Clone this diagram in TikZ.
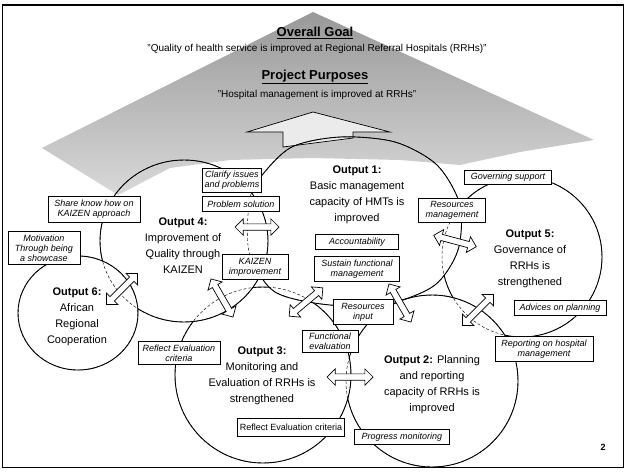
\documentclass[tikz,border=0pt]{standalone}
\usepackage{fontspec}
\setmainfont{Liberation Sans}
\usetikzlibrary{shapes.arrows}

\tikzset{
  goaltitle/.style={font=\fontsize{13}{15}\selectfont\bfseries},
  goalquote/.style={font=\fontsize{10}{12}\selectfont},
  outtext/.style={align=center, font=\fontsize{11}{16}\selectfont},
  itembox/.style={draw, line width=1pt, fill=white, align=center, inner sep=0pt, font=\fontsize{9}{9.8}\selectfont\itshape},
  linkarrow/.style={double arrow, draw, fill=white, line width=0.7pt, inner sep=2.8pt, double arrow head extend=5pt, minimum height=44pt},
  rim/.style={line width=0.9pt},
  hiddenrim/.style={line width=0.45pt, dash pattern=on 3pt off 2pt},
}

\begin{document}
\begin{tikzpicture}[x=1pt, y=-1pt]
  \useasboundingbox (0,0) rectangle (626,472);

  % Define the rims of the six outputs
  \def\rimOne{plot[smooth cycle] coordinates {(255,185) (290,148) (340,137) (395,142) (437,165) (460,205) (458,250) (435,285) (390,303) (330,305) (275,292) (250,255) (248,215)}}
  \def\rimTwo{(432,381) circle [radius=86pt]}
  \def\rimThree{(263,375) circle [radius=88pt]}
  \def\rimFour{(184,241) ellipse [x radius=84pt, y radius=81pt]}
  \def\rimFive{(522,257) circle [radius=80pt]}
  \def\rimSix{(78,313) ellipse [x radius=60pt, y radius=57pt]}
  \def\page{(0,0) rectangle (626,472)}

  % Shaded pyramid behind the goals
  \shade[top color=black!40, bottom color=black!15] (313,12) -- (594,140) -- (520,152) -- (460,165) -- (400,160) -- (313,158) -- (230,160) -- (170,168) -- (118,195) -- (42,148) -- cycle;

  % Goal and purpose
  \node[goaltitle] (goal) at (315,33) {\underline{Overall Goal}};
  \node[goalquote] (goaltxt) at (317,49) {"Quality of health service is improved at Regional Referral Hospitals (RRHs)"};
  \node[goaltitle] (purpose) at (315,77) {\underline{Project Purposes}};
  \node[goalquote] (purposetxt) at (317,95) {"Hospital management is improved at RRHs"};

  % Upward arrow from output 1
  \filldraw[fill=black!8, line width=0.7pt] (247,132) -- (313,112) -- (390,132) -- (353,132) -- (353,138) -- (283,147) -- (283,132) -- cycle;

  % Dashed rims first, solid parts where not covered
  \foreach \r in {\rimOne,\rimTwo,\rimThree,\rimFour,\rimFive,\rimSix} {
    \draw[hiddenrim] \r;
  }
  \begin{scope}[even odd rule]
    \clip \page \rimFour;
    \clip \page \rimTwo;
    \draw[rim] \rimOne;
  \end{scope}
  \begin{scope}[even odd rule]
    \clip \page \rimThree;
    \draw[rim] \rimTwo;
  \end{scope}
  \begin{scope}[even odd rule]
    \clip \page \rimFour;
    \clip \page \rimOne;
    \draw[rim] \rimThree;
  \end{scope}
  \begin{scope}[even odd rule]
    \clip \page \rimSix;
    \draw[rim] \rimFour;
  \end{scope}
  \begin{scope}[even odd rule]
    \clip \page \rimOne;
    \clip \page \rimTwo;
    \draw[rim] \rimFive;
  \end{scope}
  \draw[rim] \rimSix;

  % Output titles
  \node[outtext] (out1) at (357,195) {\textbf{Output 1:}\\Basic management\\capacity of HMTs is\\improved};
  \node[outtext] (out2) at (432,385) {\textbf{Output 2:} Planning\\and reporting\\capacity of RRHs is\\improved};
  \node[outtext] (out3) at (262,376) {\textbf{Output 3:}\\Monitoring and\\Evaluation of RRHs is\\strengthened};
  \node[outtext] (out4) at (183,246) {\textbf{Output 4:}\\Improvement of\\Quality through\\KAIZEN};
  \node[outtext] (out5) at (530,259) {\textbf{Output 5:}\\Governance of\\RRHs is\\strengthened};
  \node[outtext] (out6) at (77,317) {\textbf{Output 6:}\\African\\Regional\\Cooperation};

  % Activity boxes
  \node[itembox, minimum width=59pt, minimum height=24pt] (clarify) at (232,180) {Clarify issues\\and problems};
  \node[itembox, minimum width=77pt, minimum height=15pt] (solution) at (241,204) {Problem solution};
  \node[itembox, minimum width=66pt, minimum height=25pt] (kaizen) at (255,267) {KAIZEN\\improvement};
  \node[itembox, minimum width=83pt, minimum height=15pt] (account) at (357,242) {Accountability};
  \node[itembox, minimum width=85pt, minimum height=25pt] (sustain) at (357,269) {Sustain functional\\management};
  \node[itembox, minimum width=60pt, minimum height=25pt] (resinput) at (363,312) {Resources\\input};
  \node[itembox, minimum width=56pt, minimum height=22pt] (funceval) at (330,341) {Functional\\evaluation};
  \node[itembox, minimum width=67pt, minimum height=24pt] (resmgmt) at (452,210) {Resources\\management};
  \node[itembox, minimum width=87pt, minimum height=14pt] (govern) at (508,177) {Governing support};
  \node[itembox, minimum width=92pt, minimum height=15pt] (advice) at (560,308) {Advices on planning};
  \node[itembox, minimum width=98pt, minimum height=25pt] (report) at (544,349) {Reporting on hospital\\management};
  \node[itembox, minimum width=95pt, minimum height=15pt] (progress) at (402,437) {Progress monitoring};
  \node[itembox, minimum width=107pt, minimum height=18pt, font=\fontsize{9}{9.8}\selectfont] (reflectB) at (291,427) {Reflect Evaluation criteria};
  \node[itembox, minimum width=82pt, minimum height=23pt] (reflectA) at (179,353) {Reflect Evaluation\\criteria};
  \node[itembox, minimum width=72pt, minimum height=33pt] (motiv) at (44,248) {Motivation\\Through being\\a showcase};
  \node[itembox, minimum width=92pt, minimum height=26pt] (share) at (94,209) {Share know how on\\KAIZEN approach};

  % Links between outputs
  \node[linkarrow] (l41) at (257,227) {};
  \node[linkarrow, rotate=45] (l64) at (122,289) {};
  \node[linkarrow, rotate=-60] (l43) at (222,298) {};
  \node[linkarrow, rotate=40] (l13) at (306,302) {};
  \node[linkarrow, rotate=-60] (l12) at (400,303) {};
  \node[linkarrow, rotate=-15] (l15) at (455,241) {};
  \node[linkarrow, rotate=45] (l52) at (478,310) {};
  \node[linkarrow, minimum height=46pt] (l32) at (350,377) {};

  % Slide frame and page number
  \draw[line width=1.2pt] (2.5,5) rectangle (623.5,467.5);
  \draw[line width=2.5pt] (2,5) -- (624,5);
  \node[font=\fontsize{9}{10}\selectfont\bfseries] (pageno) at (603,447) {2};
\end{tikzpicture}
\end{document}
